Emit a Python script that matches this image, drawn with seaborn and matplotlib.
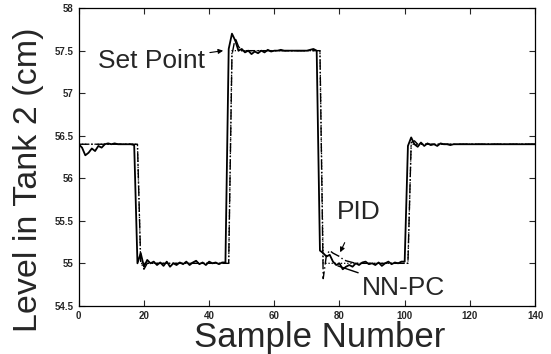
import matplotlib
matplotlib.use("Agg")
import matplotlib.pyplot as plt
import seaborn as sns
import pandas as pd

# ---------------- data ----------------
sample = list(range(0, 141))

nnpc = [
    56.40, 56.36, 56.27, 56.30, 56.35, 56.32, 56.38, 56.36, 56.40, 56.41,
    56.40, 56.41, 56.40, 56.40, 56.40, 56.40, 56.40, 56.39, 55.00, 55.12,
    54.96, 55.04, 55.00, 55.02, 54.98, 55.01, 54.97, 55.02, 54.96, 55.00,
    54.98, 55.01, 54.99, 55.02, 54.98, 55.01, 55.03, 54.99, 55.01, 54.98,
    55.02, 55.00, 55.01, 54.99, 55.01, 55.01, 57.52, 57.70, 57.62, 57.50,
    57.52, 57.48, 57.50, 57.46, 57.49, 57.47, 57.50, 57.48, 57.51, 57.49,
    57.50, 57.50, 57.51, 57.50, 57.50, 57.50, 57.50, 57.50, 57.50, 57.50,
    57.50, 57.51, 57.52, 57.50, 55.15, 55.12, 55.08, 55.10, 55.02, 54.98,
    55.00, 54.93, 54.96, 54.98, 54.96, 55.00, 54.98, 55.01, 55.02, 54.99,
    55.00, 54.98, 55.01, 54.97, 55.00, 55.02, 54.99, 55.01, 55.00, 55.02,
    55.02, 56.38, 56.48, 56.40, 56.37, 56.42, 56.38, 56.41, 56.39, 56.40,
    56.38, 56.41, 56.40, 56.40, 56.39, 56.40, 56.40, 56.40, 56.40, 56.40,
    56.40, 56.40, 56.40, 56.40, 56.40, 56.40, 56.40, 56.40, 56.40, 56.40,
    56.40, 56.40, 56.40, 56.40, 56.40, 56.40, 56.40, 56.40, 56.40, 56.40,
    56.40,
]

pid = [
    56.40, 56.40, 56.40, 56.40, 56.40, 56.40, 56.40, 56.40, 56.40, 56.40,
    56.40, 56.40, 56.40, 56.40, 56.40, 56.40, 56.40, 56.40, 56.40, 55.02,
    54.93, 55.00, 55.00, 55.00, 55.00, 55.00, 55.00, 55.00, 55.00, 55.00,
    55.00, 55.00, 55.00, 55.00, 55.00, 55.00, 55.00, 55.00, 55.00, 55.00,
    55.00, 55.00, 55.00, 55.00, 55.00, 55.00, 55.00, 57.45, 57.65, 57.55,
    57.50, 57.50, 57.50, 57.50, 57.50, 57.50, 57.50, 57.50, 57.50, 57.50,
    57.50, 57.50, 57.50, 57.50, 57.50, 57.50, 57.50, 57.50, 57.50, 57.50,
    57.50, 57.50, 57.50, 57.50, 57.50, 54.82, 55.10, 55.15, 55.12, 55.10,
    55.08, 55.05, 55.03, 55.02, 55.01, 55.00, 55.00, 55.00, 55.00, 55.00,
    55.00, 55.00, 55.00, 55.00, 55.00, 55.00, 55.00, 55.00, 55.00, 55.00,
    55.00, 55.00, 56.42, 56.44, 56.40, 56.40, 56.40, 56.40, 56.40, 56.40,
    56.40, 56.40, 56.40, 56.40, 56.40, 56.40, 56.40, 56.40, 56.40, 56.40,
    56.40, 56.40, 56.40, 56.40, 56.40, 56.40, 56.40, 56.40, 56.40, 56.40,
    56.40, 56.40, 56.40, 56.40, 56.40, 56.40, 56.40, 56.40, 56.40, 56.40,
    56.40,
]

set_x = [0, 18, 19, 46, 47, 74, 75, 101, 102, 140]
set_y = [56.4, 56.4, 55.0, 55.0, 57.5, 57.5, 55.0, 55.0, 56.4, 56.4]

x_ticks = [0, 20, 40, 60, 80, 100, 120, 140]
y_ticks = [54.5, 55, 55.5, 56, 56.5, 57, 57.5, 58]
y_tick_labels = ["54.5", "55", "55.5", "56", "56.5", "57", "57.5", "58"]

# ---------------- plot ----------------
sns.set_style("ticks")
plt.rcParams["font.family"] = ["Liberation Sans", "DejaVu Sans"]

fig = plt.figure(figsize=(5.51, 3.54), dpi=100)
ax = fig.add_axes([0.143, 0.136, 0.828, 0.841])

df_nn = pd.DataFrame({"Sample": sample, "Level": nnpc})
df_pid = pd.DataFrame({"Sample": sample, "Level": pid})
df_sp = pd.DataFrame({"Sample": set_x, "Level": set_y})

sns.lineplot(data=df_sp, x="Sample", y="Level", ax=ax, color="black",
             lw=0.9, linestyle=(0, (1, 1.5)))
sns.lineplot(data=df_pid, x="Sample", y="Level", ax=ax, color="black",
             lw=1.0, linestyle=(0, (7, 2, 1, 2)))
sns.lineplot(data=df_nn, x="Sample", y="Level", ax=ax, color="black",
             lw=1.3)

ax.set_xlim(0, 140)
ax.set_ylim(54.5, 58)
ax.set_xticks(x_ticks)
ax.set_xticklabels([str(t) for t in x_ticks])
ax.set_yticks(y_ticks)
ax.set_yticklabels(y_tick_labels)
ax.tick_params(direction="in", length=4, width=0.8, labelsize=7,
               top=True, right=True, pad=4)
for lab in ax.get_xticklabels() + ax.get_yticklabels():
    lab.set_fontweight("bold")
for sp in ax.spines.values():
    sp.set_linewidth(0.9)
    sp.set_color("black")

ax.set_xlabel("Sample Number", fontsize=25)
ax.set_ylabel("Level in Tank 2 (cm)", fontsize=24.5)
ax.xaxis.set_label_coords(0.528, -0.052)
ax.yaxis.set_label_coords(-0.077, 0.425)

ax.annotate("Set Point", xy=(44.3, 57.5), xytext=(38.8, 57.38),
            fontsize=19, ha="right", va="center",
            arrowprops=dict(arrowstyle="-|>", color="black", lw=0.8,
                            mutation_scale=7, shrinkA=1, shrinkB=0))
ax.annotate("PID", xy=(80.2, 55.13), xytext=(86.0, 55.6),
            fontsize=19, ha="center", va="center",
            arrowprops=dict(arrowstyle="-|>", color="black", lw=0.8,
                            mutation_scale=7, shrinkA=12, shrinkB=0))
ax.annotate("NN-PC", xy=(79.5, 54.97), xytext=(99.5, 54.71),
            fontsize=19, ha="center", va="center",
            arrowprops=dict(arrowstyle="-", color="black", lw=1.0,
                            shrinkA=30, shrinkB=0))

fig.savefig("out.png", dpi=100)
